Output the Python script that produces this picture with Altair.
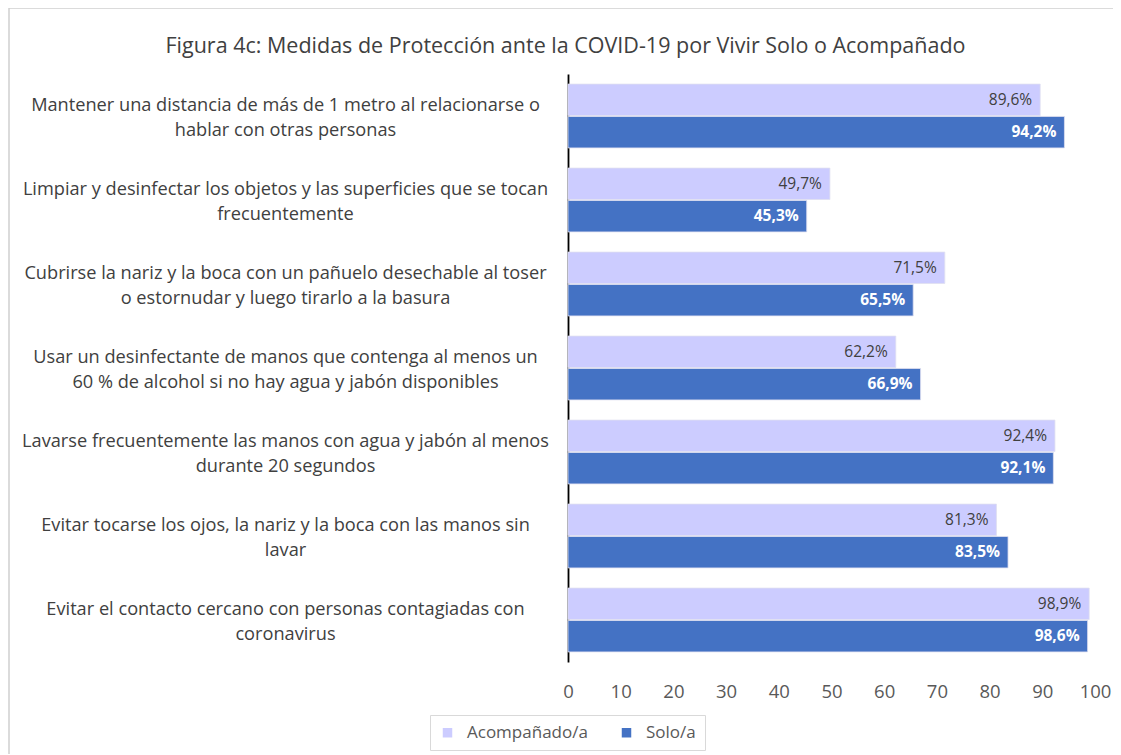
import altair as alt
import pandas as pd

categories = [
    "Mantener una distancia de más de 1 metro al relacionarse o|hablar con otras personas",
    "Limpiar y desinfectar los objetos y las superficies que se tocan|frecuentemente",
    "Cubrirse la nariz y la boca con un pañuelo desechable al toser|o estornudar y luego tirarlo a la basura",
    "Usar un desinfectante de manos que contenga al menos un|60 % de alcohol si no hay agua y jabón disponibles",
    "Lavarse frecuentemente las manos con agua y jabón al menos|durante 20 segundos",
    "Evitar tocarse los ojos, la nariz y la boca con las manos sin|lavar",
    "Evitar el contacto cercano con personas contagiadas con|coronavirus",
]
acompanado = [89.6, 49.7, 71.5, 62.2, 92.4, 81.3, 98.9]
solo = [94.2, 45.3, 65.5, 66.9, 92.1, 83.5, 98.6]
series = ["Acompañado/a", "Solo/a"]
x_ticks = [0, 10, 20, 30, 40, 50, 60, 70, 80, 90, 100]

rows = []
for c, a, s in zip(categories, acompanado, solo):
    for g, v in zip(series, [a, s]):
        rows.append({"cat": c, "group": g, "value": v,
                     "label": f"{v:.1f}".replace(".", ",") + "%"})
df = pd.DataFrame(rows)

FONT = "Open Sans"
FS = 18.2
colors = ["#CCCCFF", "#4472C4"]

base = alt.Chart(df).encode(
    y=alt.Y("cat:N", sort=categories, title=None,
            scale=alt.Scale(paddingInner=0.24, paddingOuter=0.12),
            axis=alt.Axis(labelExpr="split(datum.label, '|')", labelAlign="center",
                          labelPadding=283, ticks=False, labelLimit=0,
                          labelFontSize=FS, labelColor="#404040", labelFont=FONT,
                          labelLineHeight=25, labelOffset=-10,
                          domainColor="#000000", domainWidth=1.8)),
    yOffset=alt.YOffset("group:N", sort=series, scale=alt.Scale(paddingInner=0.03)),
)

bars = base.mark_bar(stroke="#E0E0F0", strokeWidth=0.8).encode(
    x=alt.X("value:Q", scale=alt.Scale(domain=[0, 100]), title=None,
            axis=alt.Axis(values=x_ticks, grid=False, domain=False, ticks=False,
                          labelFontSize=18.5, labelColor="#595959", labelFont=FONT,
                          labelPadding=20, labelFlush=False)),
    color=alt.Color("group:N", sort=series,
                    scale=alt.Scale(domain=series, range=colors),
                    legend=alt.Legend(title=None, orient="none", direction="horizontal",
                                      legendX=-138, legendY=641, symbolType="square",
                                      symbolSize=90, labelFontSize=17, labelFont=FONT,
                                      labelColor="#595959", columnPadding=30, labelOffset=11,
                                      strokeColor="#D9D9D9", padding=9, symbolStrokeWidth=0)),
)

text_a = base.mark_text(align="right", dx=-8, fontSize=15.5, font=FONT,
                        color="#404040").encode(
    x="value:Q", text="label:N"
).transform_filter(alt.datum.group == series[0])

text_s = base.mark_text(align="right", dx=-8, fontSize=15.5, font=FONT,
                        color="#FFFFFF", fontWeight="bold").encode(
    x="value:Q", text="label:N"
).transform_filter(alt.datum.group == series[1])

frame = alt.Chart(pd.DataFrame({"a": [0]})).mark_rect(
    fill=None, stroke="#D0D0D0", strokeWidth=1.5).encode(
    x=alt.value(-559), x2=alt.value(600), y=alt.value(-66), y2=alt.value(720))

chart = alt.layer(frame, bars, text_a, text_s).properties(
    width=527, height=588,
    title=alt.TitleParams("Figura 4c: Medidas de Protección ante la COVID-19  por Vivir Solo o Acompañado",
                          fontSize=21.5, font=FONT, fontWeight="normal", color="#404040",
                          anchor="middle", dx=-266, offset=-50),
    autosize=alt.AutoSizeParams(type="none"),
    padding={"left": 560, "top": 66, "right": 18, "bottom": 92},
).configure_view(stroke=None)

chart.save("out.html", embed_options={"renderer": "svg", "actions": False})
